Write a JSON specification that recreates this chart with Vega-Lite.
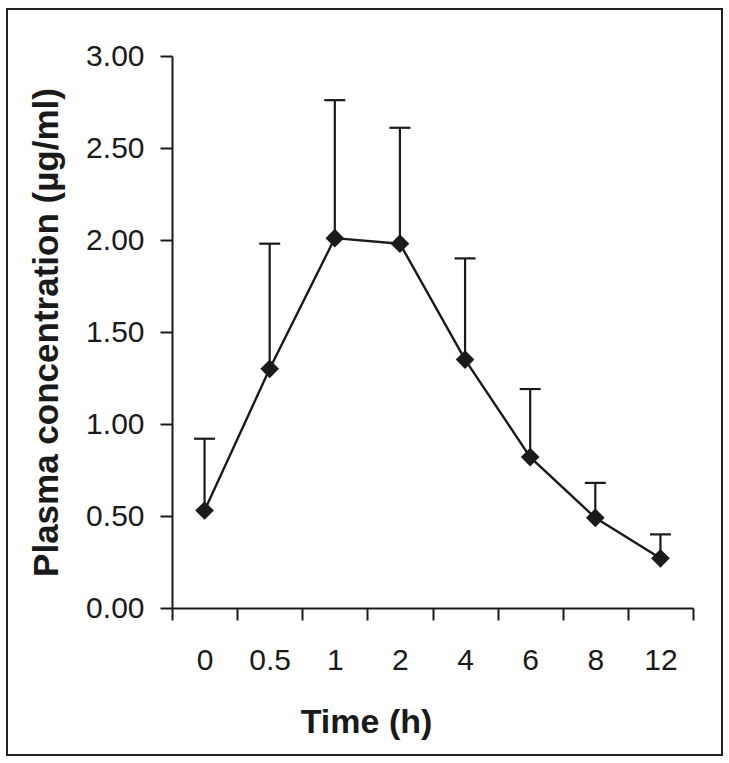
{
  "$schema": "https://vega.github.io/schema/vega-lite/v6.json",
  "width": 715,
  "height": 746,
  "autosize": {"type": "none"},
  "padding": {"left": 7, "top": 9, "right": 7, "bottom": 8},
  "background": "white",
  "config": {
    "view": {"stroke": "#222222", "strokeWidth": 2},
    "font": "Liberation Sans"
  },
  "data": {
    "values": [
      {"time": "0", "mean": 0.53, "upper": 0.92},
      {"time": "0.5", "mean": 1.30, "upper": 1.98},
      {"time": "1", "mean": 2.01, "upper": 2.76},
      {"time": "2", "mean": 1.98, "upper": 2.61},
      {"time": "4", "mean": 1.35, "upper": 1.90},
      {"time": "6", "mean": 0.82, "upper": 1.19},
      {"time": "8", "mean": 0.49, "upper": 0.68},
      {"time": "12", "mean": 0.27, "upper": 0.40}
    ]
  },
  "encoding": {
    "x": {
      "field": "time",
      "type": "ordinal",
      "sort": ["0", "0.5", "1", "2", "4", "6", "8", "12"],
      "scale": {"range": [165, 686], "paddingInner": 0, "paddingOuter": 0},
      "axis": {
        "title": "Time (h)",
        "offset": -147,
        "labelAngle": 0,
        "tickBand": "extent",
        "grid": false,
        "domainColor": "#1a1a1a",
        "domainWidth": 2,
        "tickColor": "#1a1a1a",
        "tickWidth": 2,
        "tickSize": 12,
        "labelFont": "Liberation Sans",
        "labelFontSize": 30,
        "labelColor": "#1a1a1a",
        "labelPadding": 25,
        "titleFont": "Liberation Sans",
        "titleFontSize": 34,
        "titleFontWeight": "bold",
        "titleColor": "#1a1a1a",
        "titleX": 359,
        "titleY": 97,
        "titleAlign": "center",
        "titleBaseline": "top"
      }
    },
    "y": {
      "field": "mean",
      "type": "quantitative",
      "scale": {"domain": [0, 3], "range": [599, 47], "nice": false},
      "axis": {
        "title": "Plasma concentration (µg/ml)",
        "values": [0, 0.5, 1, 1.5, 2, 2.5, 3],
        "format": ".2f",
        "offset": -165,
        "grid": false,
        "domainColor": "#1a1a1a",
        "domainWidth": 2,
        "tickColor": "#1a1a1a",
        "tickWidth": 2,
        "tickSize": 12,
        "labelFont": "Liberation Sans",
        "labelFontSize": 30,
        "labelColor": "#1a1a1a",
        "labelPadding": 16,
        "titleFont": "Liberation Sans",
        "titleFontSize": 35,
        "titleFontWeight": "bold",
        "titleColor": "#1a1a1a",
        "titlePadding": 21
      }
    }
  },
  "layer": [
    {
      "mark": {"type": "rule", "color": "#1a1a1a", "strokeWidth": 2.2},
      "encoding": {"y2": {"field": "upper"}}
    },
    {
      "mark": {"type": "tick", "color": "#1a1a1a", "size": 21, "thickness": 2.2, "opacity": 1},
      "encoding": {
        "y": {
          "field": "upper",
          "type": "quantitative",
          "scale": {"domain": [0, 3], "range": [599, 47], "nice": false},
          "axis": {
            "title": "Plasma concentration (µg/ml)",
            "values": [0, 0.5, 1, 1.5, 2, 2.5, 3],
            "format": ".2f",
            "offset": -165,
            "grid": false,
            "domainColor": "#1a1a1a",
            "domainWidth": 2,
            "tickColor": "#1a1a1a",
            "tickWidth": 2,
            "tickSize": 12,
            "labelFont": "Liberation Sans",
            "labelFontSize": 30,
            "labelColor": "#1a1a1a",
            "labelPadding": 16,
            "titleFont": "Liberation Sans",
            "titleFontSize": 35,
            "titleFontWeight": "bold",
            "titleColor": "#1a1a1a",
            "titlePadding": 21
          }
        }
      }
    },
    {
      "mark": {"type": "line", "color": "#1a1a1a", "strokeWidth": 2.4},
      "encoding": {}
    },
    {
      "mark": {"type": "point", "shape": "diamond", "filled": true, "color": "#1a1a1a", "size": 350, "opacity": 1},
      "encoding": {}
    }
  ]
}
